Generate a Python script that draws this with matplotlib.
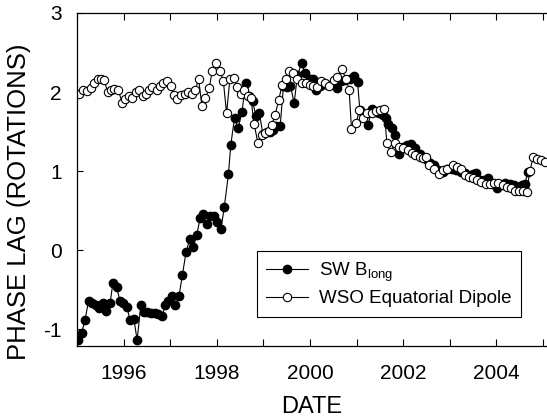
import matplotlib
matplotlib.use("Agg")
import matplotlib.pyplot as plt

plt.rcParams['font.family'] = ['Liberation Sans', 'DejaVu Sans']
plt.rcParams['mathtext.fontset'] = 'custom'
plt.rcParams['mathtext.rm'] = 'Liberation Sans'
plt.rcParams['mathtext.it'] = 'Liberation Sans'
plt.rcParams['axes.unicode_minus'] = False

# SW B_long phase lag (decimal year, rotations)
sw_dates = [
    1995.03, 1995.10, 1995.17, 1995.25, 1995.33, 1995.41, 1995.48, 1995.55, 1995.63, 1995.71,
    1995.77, 1995.85, 1995.92, 1995.99, 1996.07, 1996.14, 1996.22, 1996.29, 1996.37, 1996.44,
    1996.51, 1996.59, 1996.67, 1996.74, 1996.83, 1996.89, 1996.96, 1997.04, 1997.11, 1997.19,
    1997.26, 1997.34, 1997.42, 1997.50, 1997.57, 1997.64, 1997.71, 1997.78, 1997.86, 1997.94,
    1998.01, 1998.09, 1998.16, 1998.25, 1998.30, 1998.38, 1998.46, 1998.54, 1998.62, 1998.69,
    1998.77, 1998.84, 1998.91, 1998.99, 1999.07, 1999.14, 1999.21, 1999.28, 1999.36, 1999.43,
    1999.50, 1999.58, 1999.66, 1999.73, 1999.82, 1999.89, 1999.99, 2000.06, 2000.13, 2000.21,
    2000.30, 2000.39, 2000.49, 2000.57, 2000.66, 2000.75, 2000.86, 2000.94, 2001.02, 2001.07,
    2001.16, 2001.25, 2001.32, 2001.42, 2001.49, 2001.57, 2001.63, 2001.68, 2001.75, 2001.82,
    2001.92, 2002.00, 2002.08, 2002.16, 2002.25, 2002.35, 2002.43, 2002.50, 2002.58, 2002.66,
    2002.75, 2002.85, 2002.93, 2003.04, 2003.13, 2003.23, 2003.33, 2003.42, 2003.50, 2003.56,
    2003.65, 2003.73, 2003.83, 2003.92, 2004.02, 2004.09, 2004.18, 2004.29, 2004.38, 2004.47,
    2004.54, 2004.61, 2004.68,
]
sw_lag = [
    -1.14, -1.05, -0.89, -0.64, -0.67, -0.69, -0.73, -0.67, -0.77, -0.67,
    -0.42, -0.47, -0.64, -0.67, -0.72, -0.89, -0.87, -1.14, -0.70, -0.78,
    -0.79, -0.80, -0.80, -0.81, -0.84, -0.70, -0.64, -0.58, -0.70, -0.58,
    -0.32, -0.03, 0.14, 0.04, 0.19, 0.40, 0.46, 0.33, 0.43, 0.43,
    0.36, 0.27, 0.54, 0.96, 1.33, 1.67, 1.54, 1.75, 2.11, 1.95,
    1.88, 1.69, 1.74, 1.47, 1.49, 1.50, 1.52, 1.57, 1.57, 2.07,
    2.06, 2.08, 1.86, 2.21, 2.37, 2.24, 2.16, 2.16, 2.03, 2.08,
    2.10, 2.09, 2.10, 2.05, 2.14, 2.15, 2.17, 2.20, 2.13, 1.77,
    1.71, 1.58, 1.79, 1.75, 1.73, 1.71, 1.67, 1.60, 1.54, 1.46,
    1.22, 1.31, 1.33, 1.34, 1.29, 1.22, 1.18, 1.15, 1.10, 1.08,
    1.01, 0.99, 1.02, 1.03, 1.01, 0.99, 0.97, 0.94, 0.96, 0.97,
    0.89, 0.89, 0.91, 0.84, 0.79, 0.82, 0.85, 0.83, 0.82, 0.80,
    0.82, 0.84, 0.99,
]

# WSO equatorial dipole phase lag
wso_dates = [
    1995.05, 1995.12, 1995.21, 1995.29, 1995.36, 1995.44, 1995.51, 1995.58, 1995.66, 1995.73,
    1995.80, 1995.89, 1995.97, 1996.04, 1996.12, 1996.19, 1996.26, 1996.33, 1996.41, 1996.48,
    1996.55, 1996.62, 1996.71, 1996.78, 1996.85, 1996.93, 1997.01, 1997.08, 1997.15, 1997.23,
    1997.31, 1997.39, 1997.47, 1997.54, 1997.61, 1997.68, 1997.75, 1997.84, 1997.90, 1997.98,
    1998.07, 1998.14, 1998.21, 1998.28, 1998.36, 1998.44, 1998.51, 1998.58, 1998.66, 1998.73,
    1998.80, 1998.88, 1998.96, 1999.03, 1999.11, 1999.18, 1999.25, 1999.33, 1999.40, 1999.48,
    1999.56, 1999.64, 1999.73, 1999.82, 1999.91, 2000.00, 2000.07, 2000.16, 2000.24, 2000.32,
    2000.41, 2000.52, 2000.59, 2000.68, 2000.77, 2000.84, 2000.89, 2000.99, 2001.06, 2001.14,
    2001.23, 2001.32, 2001.42, 2001.50, 2001.59, 2001.65, 2001.73, 2001.82, 2001.91, 2002.00,
    2002.10, 2002.18, 2002.25, 2002.35, 2002.42, 2002.49, 2002.56, 2002.66, 2002.76, 2002.85,
    2002.93, 2003.06, 2003.15, 2003.23, 2003.33, 2003.42, 2003.50, 2003.59, 2003.68, 2003.77,
    2003.86, 2003.95, 2004.04, 2004.14, 2004.22, 2004.31, 2004.40, 2004.49, 2004.58, 2004.65,
    2004.72, 2004.79, 2004.88, 2004.96, 2005.04,
]
wso_lag = [
    1.97, 2.03, 2.01, 2.05, 2.11, 2.17, 2.17, 2.15, 2.00, 2.02,
    2.04, 2.02, 1.86, 1.91, 1.95, 1.92, 2.00, 2.02, 1.95, 1.98,
    2.02, 2.06, 2.03, 2.07, 2.11, 2.14, 2.07, 1.96, 1.91, 1.96,
    1.98, 2.00, 1.98, 2.02, 2.17, 1.82, 1.92, 2.05, 2.27, 2.37,
    2.26, 2.14, 1.73, 2.16, 2.18, 2.06, 1.98, 2.02, 1.95, 1.93,
    1.60, 1.36, 1.45, 1.48, 1.51, 1.58, 1.71, 1.90, 2.09, 2.17,
    2.27, 2.24, 2.16, 2.12, 2.12, 2.09, 2.07, 2.06, 2.14, 2.12,
    2.08, 2.15, 2.19, 2.29, 2.17, 2.03, 1.53, 1.61, 1.77, 1.67,
    1.73, 1.74, 1.76, 1.77, 1.79, 1.35, 1.24, 1.35, 1.31, 1.29,
    1.27, 1.23, 1.20, 1.18, 1.16, 1.18, 1.08, 1.03, 0.96, 1.01,
    1.03, 1.08, 1.05, 1.02, 0.95, 0.93, 0.91, 0.89, 0.86, 0.84,
    0.83, 0.85, 0.85, 0.82, 0.80, 0.78, 0.75, 0.75, 0.75, 0.74,
    1.00, 1.18, 1.15, 1.14, 1.12,
]

year_ticks = list(range(1995, 2006))
year_labels = [str(y) if y % 2 == 0 else '' for y in year_ticks]

fig = plt.figure(figsize=(5.47, 4.2), dpi=100)
ax = fig.add_axes([77 / 547, 74 / 420, 470 / 547, 333 / 420])

ax.plot(sw_dates, sw_lag, color='black', lw=0.8, marker='o', ms=6,
        mfc='black', mec='black', label='SW B$_{\\mathrm{long}}$')
ax.plot(wso_dates, wso_lag, color='black', lw=0.8, marker='o', ms=6,
        mfc='white', mec='black', mew=0.8, label='WSO Equatorial Dipole')

ax.set_xlim(1995, 2005.086)
ax.set_ylim(-1.215, 3.0)
ax.set_xticks(year_ticks)
ax.set_xticklabels(year_labels)
ax.set_yticks([-1, 0, 1, 2, 3])
ax.tick_params(axis='x', direction='in', top=True, length=5, width=0.8,
               labelsize=15, pad=13)
ax.tick_params(axis='y', direction='in', length=4, width=0.8,
               labelsize=15, pad=11)
ax.spines['right'].set_visible(False)
for s in ['left', 'bottom', 'top']:
    ax.spines[s].set_linewidth(0.9)

ax.set_xlabel('DATE', fontsize=17, labelpad=9)
ax.set_ylabel('PHASE LAG (ROTATIONS)', fontsize=18.5)
ax.yaxis.set_label_coords(-0.098, 0.433)

leg = ax.legend(loc='upper left', bbox_to_anchor=(0.383, 0.285), fontsize=13.5,
                frameon=True, fancybox=False, framealpha=1, edgecolor='black',
                handlelength=2.2, handletextpad=0.6, labelspacing=0.35,
                borderpad=0.5, borderaxespad=0)
leg.get_frame().set_linewidth(0.8)

fig.savefig('out.png', dpi=100)
